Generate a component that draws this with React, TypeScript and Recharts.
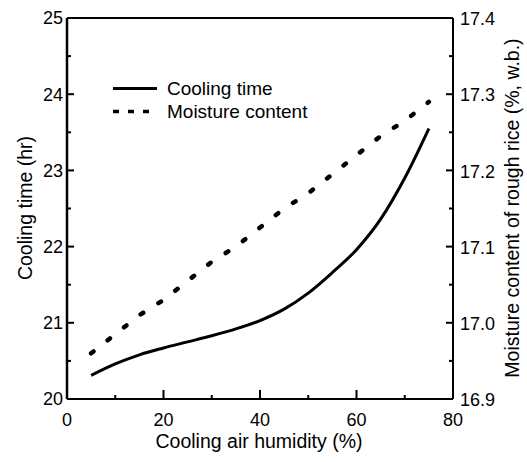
import React from 'react';
import { LineChart, Line, XAxis, YAxis, Legend, ReferenceLine } from 'recharts';

const humidity = [5, 10, 15, 20, 25, 30, 35, 40, 45, 50, 55, 60, 65, 70, 75];
const coolingTime = [20.31, 20.46, 20.58, 20.67, 20.75, 20.83, 20.92, 21.03, 21.18, 21.39, 21.66, 21.96, 22.36, 22.9, 23.55];
const moistureContent = [16.96, 16.985, 17.01, 17.03, 17.055, 17.08, 17.1, 17.125, 17.15, 17.17, 17.195, 17.22, 17.245, 17.265, 17.29];

const xTicks = [0, 10, 20, 30, 40, 50, 60, 70, 80];
const leftTicks = [20, 20.5, 21, 21.5, 22, 22.5, 23, 23.5, 24, 24.5, 25];
const rightTicks = [16.9, 16.95, 17.0, 17.05, 17.1, 17.15, 17.2, 17.25, 17.3, 17.35, 17.4];

const seriesNames = ['Cooling time', 'Moisture content'];

const data = humidity.map((h, i) => ({ h, time: coolingTime[i], moisture: moistureContent[i] }));

const FONT = '"Liberation Sans", Arial, Helvetica, sans-serif';
const TICK_FS = 18;
const TICK_COLOR = '#000';
const TICK_W = 2;
const titleStyle = { fontFamily: FONT, fontSize: 19.5, fill: '#000' };

const isMultiple = (v: number, step: number) => Math.abs(v / step - Math.round(v / step)) < 1e-6;

const BottomTick = (props: any) => {
  const { x, y, payload } = props;
  const m = 14;
  const v = payload.value;
  const major = isMultiple(v, 20);
  const axisY = y - m;
  return (
    <g>
      <line x1={x} x2={x} y1={axisY} y2={axisY - (major ? 9 : 4)} stroke={TICK_COLOR} strokeWidth={TICK_W} />
      {major && (
        <text x={x} y={y} dy="0.71em" textAnchor="middle" fontSize={TICK_FS} fontFamily={FONT} fill="#000">
          {v}
        </text>
      )}
    </g>
  );
};

const LeftTick = (props: any) => {
  const { x, y, payload } = props;
  const m = 4;
  const v = payload.value;
  const major = isMultiple(v, 1);
  const axisX = x + m;
  return (
    <g>
      <line x1={axisX} x2={axisX + (major ? 7 : 4)} y1={y} y2={y} stroke={TICK_COLOR} strokeWidth={TICK_W} />
      {major && (
        <text x={x} y={y} dy="0.35em" textAnchor="end" fontSize={TICK_FS} fontFamily={FONT} fill="#000">
          {v}
        </text>
      )}
    </g>
  );
};

const RightTick = (props: any) => {
  const { x, y, payload } = props;
  const m = 7;
  const v = payload.value;
  const major = isMultiple(v, 0.1);
  const axisX = x - m;
  return (
    <g>
      <line x1={axisX} x2={axisX - (major ? 7 : 4)} y1={y} y2={y} stroke={TICK_COLOR} strokeWidth={TICK_W} />
      {major && (
        <text x={x} y={y} dy="0.4em" textAnchor="start" fontSize={TICK_FS} fontFamily={FONT} fill="#000">
          {v.toFixed(1)}
        </text>
      )}
    </g>
  );
};

const LegendContent = () => (
  <div style={{ fontFamily: FONT, fontSize: 19, color: '#000', lineHeight: '23px' }}>
    {seriesNames.map((name, i) => (
      <div key={name} style={{ display: 'flex', alignItems: 'center', height: 23 }}>
        <svg width={54} height={23} style={{ display: 'block' }}>
          {i === 0 ? (
            <line x1={0} x2={44} y1={11.5} y2={11.5} stroke="#000" strokeWidth={3} />
          ) : (
            <line x1={0} x2={37} y1={11.5} y2={11.5} stroke="#000" strokeWidth={3.5} strokeDasharray="6 9" />
          )}
        </svg>
        <span style={{ whiteSpace: 'nowrap' }}>{name}</span>
      </div>
    ))}
  </div>
);

export default function App() {
  return (
    <div style={{ position: 'absolute', left: 0, top: 0, width: 527, height: 462, background: '#fff' }}>
      <LineChart width={527} height={462} data={data} margin={{ top: 18, right: 0, bottom: 0, left: 0 }}>
        <XAxis
          dataKey="h"
          type="number"
          domain={[0, 80]}
          ticks={xTicks}
          interval={0}
          tickSize={0}
          tickMargin={14}
          height={63}
          tick={<BottomTick />}
          tickLine={false}
          axisLine={{ stroke: '#000', strokeWidth: 2 }}
          label={{
            content: () => (
              <text x={259} y={441} textAnchor="middle" dominantBaseline="central" style={titleStyle}>
                Cooling air humidity (%)
              </text>
            ),
          }}
        />
        <YAxis
          yAxisId="left"
          orientation="left"
          domain={[20, 25]}
          ticks={leftTicks}
          interval={0}
          width={67}
          tickSize={0}
          tickMargin={4}
          tick={<LeftTick />}
          tickLine={false}
          axisLine={{ stroke: '#000', strokeWidth: 2.5 }}
          label={{
            content: () => (
              <text x={25} y={208} transform="rotate(-90 25 208)" textAnchor="middle" dominantBaseline="central" style={titleStyle}>
                Cooling time (hr)
              </text>
            ),
          }}
        />
        <YAxis
          yAxisId="right"
          orientation="right"
          domain={[16.9, 17.4]}
          ticks={rightTicks}
          interval={0}
          width={74}
          tickSize={0}
          tickMargin={7}
          tick={<RightTick />}
          tickLine={false}
          axisLine={{ stroke: '#000', strokeWidth: 2 }}
          label={{
            content: () => (
              <text x={512} y={208} transform="rotate(-90 512 208)" textAnchor="middle" dominantBaseline="central" style={titleStyle}>
                Moisture content of rough rice (%, w.b.)
              </text>
            ),
          }}
        />
        <ReferenceLine yAxisId="left" y={25} stroke="#000" strokeWidth={2} />
        <Legend
          layout="horizontal"
          align="center"
          verticalAlign="middle"
          content={<LegendContent />}
          wrapperStyle={{ left: 113, top: 77, width: 220, height: 46 }}
        />
        <Line
          yAxisId="left"
          dataKey="time"
          name={seriesNames[0]}
          type="monotone"
          stroke="#000"
          strokeWidth={3}
          dot={false}
          isAnimationActive={false}
        />
        <Line
          yAxisId="right"
          dataKey="moisture"
          name={seriesNames[1]}
          type="linear"
          stroke="#000"
          strokeWidth={4.5}
          strokeDasharray="3 18"
          strokeLinecap="round"
          dot={false}
          isAnimationActive={false}
        />
      </LineChart>
    </div>
  );
}
